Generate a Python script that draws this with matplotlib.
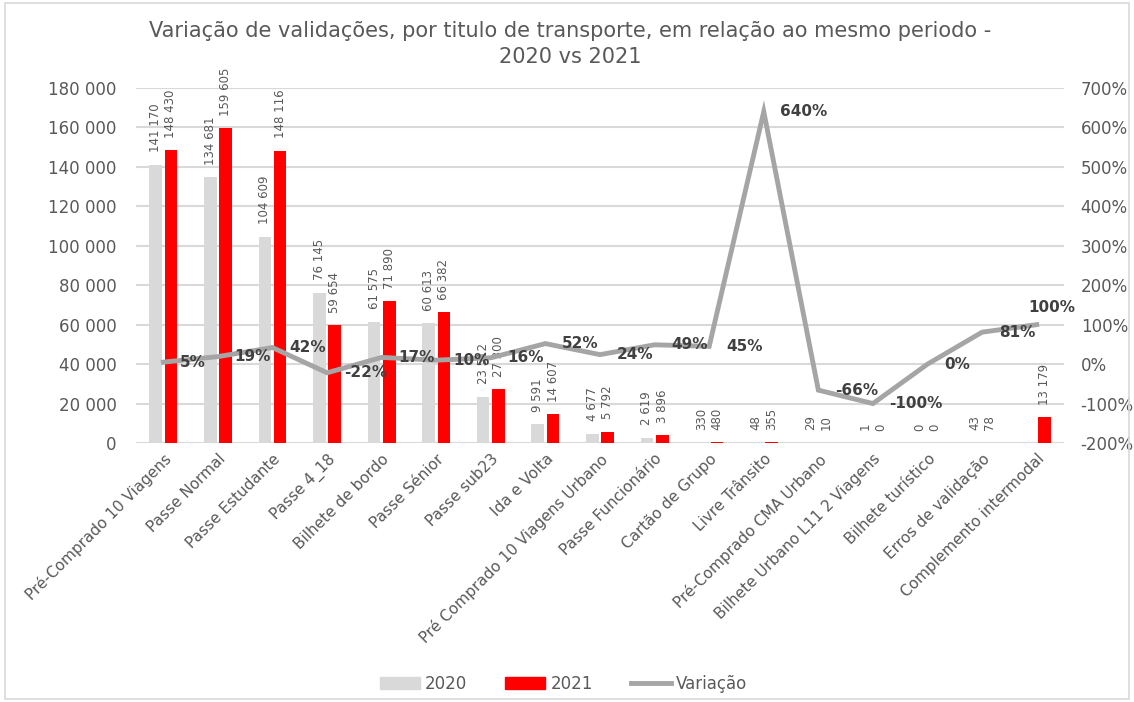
import matplotlib
matplotlib.use("Agg")
import matplotlib.pyplot as plt
import numpy as np
from matplotlib.patches import Patch, Rectangle
from matplotlib.lines import Line2D
from matplotlib.ticker import FuncFormatter, MultipleLocator

categories = [
    "Pré-Comprado 10 Viagens", "Passe Normal", "Passe Estudante", "Passe 4_18",
    "Bilhete de bordo", "Passe Sénior", "Passe sub23", "Ida e Volta",
    "Pré Comprado 10 Viagens Urbano", "Passe Funcionário", "Cartão de Grupo",
    "Livre Trânsito", "Pré-Comprado CMA Urbano", "Bilhete Urbano L11 2 Viagens",
    "Bilhete turístico", "Erros de validação", "Complemento intermodal",
]
v2020 = [141170, 134681, 104609, 76145, 61575, 60613, 23512, 9591, 4677, 2619,
         330, 48, 29, 1, 0, 43, None]
v2021 = [148430, 159605, 148116, 59654, 71890, 66382, 27300, 14607, 5792, 3896,
         480, 355, 10, 0, 0, 78, 13179]
variacao = [5, 19, 42, -22, 17, 10, 16, 52, 24, 49, 45, 640, -66, -100, 0, 81, 100]

TXT = "#595959"
DARK = "#404040"
GRID = "#D9D9D9"
C2020 = "#D9D9D9"
C2021 = "#FF0000"
CLINE = "#A5A5A5"

fig = plt.figure(figsize=(11.34, 7.02), dpi=100)
ax = fig.add_axes([136/1134, 1-443/702, (1064-136)/1134, (443-88)/702])
ax2 = ax.twinx()

x = np.arange(len(categories))
bw = 0.23
off = 0.14
y20 = [np.nan if v is None else v for v in v2020]
ax.bar(x - off, y20, width=bw, color=C2020, zorder=2)
ax.bar(x + off, v2021, width=bw, color=C2021, zorder=2)

def fmt_num(v):
    return f"{v:,}".replace(",", " ")

for xi, v in zip(x, v2020):
    if v is None:
        continue
    ax.annotate(fmt_num(v), (xi - off, v), xytext=(0, 9), textcoords="offset points",
                rotation=90, ha="center", va="bottom", fontsize=8.5, color=TXT)
for xi, v in zip(x, v2021):
    ax.annotate(fmt_num(v), (xi + off, v), xytext=(0, 9), textcoords="offset points",
                rotation=90, ha="center", va="bottom", fontsize=8.5, color=TXT)

ax.set_xlim(-0.5, len(categories) - 0.5)
ax.set_ylim(0, 180000)
ax.yaxis.set_major_locator(MultipleLocator(20000))
ax.yaxis.set_major_formatter(FuncFormatter(lambda v, p: fmt_num(int(v))))
ax.grid(axis="y", color=GRID, linewidth=1.5, zorder=0)
ax.set_axisbelow(True)
ax.set_xticks(x)
ax.set_xticklabels(categories, rotation=45, ha="right", va="top",
                   rotation_mode="anchor", fontsize=11, color=TXT)
ax.tick_params(axis="y", length=0, pad=14, labelsize=12, labelcolor=TXT)
ax.tick_params(axis="x", length=0, pad=6, labelsize=11, labelcolor=TXT)

ax2.plot(x, variacao, color=CLINE, linewidth=3.5, solid_joinstyle="miter", zorder=3)
n = len(variacao)
for i, (xi, v) in enumerate(zip(x, variacao)):
    if i == n - 1:
        ax2.annotate(f"{v}%", (xi, v), xytext=(11, 12), textcoords="offset points",
                     ha="center", va="center", fontsize=11, fontweight="bold", color=DARK)
    else:
        ax2.annotate(f"{v}%", (xi, v), xytext=(12, 0), textcoords="offset points",
                     ha="left", va="center", fontsize=11, fontweight="bold", color=DARK)
ax2.set_ylim(-200, 700)
ax2.yaxis.set_major_locator(MultipleLocator(100))
ax2.yaxis.set_major_formatter(FuncFormatter(lambda v, p: f"{int(v)}%"))
ax2.tick_params(axis="y", length=0, pad=12, labelsize=12, labelcolor=TXT)

for a in (ax, ax2):
    for s in a.spines.values():
        s.set_visible(False)

fig.text(0.503, 0.97, "Variação de validações, por titulo de transporte, em relação ao mesmo periodo -\n2020 vs 2021",
         ha="center", va="top", fontsize=15, color=TXT, linespacing=1.4)

handles = [Patch(color=C2020), Patch(color=C2021),
           Line2D([0], [0], color=CLINE, linewidth=3.5)]
fig.legend(handles, ["2020", "2021", "Variação"], loc="center", bbox_to_anchor=(0.497, 0.026),
           ncol=3, frameon=False, fontsize=12, labelcolor=TXT, handlelength=2.4,
           handleheight=0.7, columnspacing=2.3, handletextpad=0.3)

fig.patches.append(Rectangle((0.004, 0.004), 0.992, 0.992, transform=fig.transFigure,
                             fill=False, edgecolor=GRID, linewidth=1.2))

fig.savefig("out.png", dpi=100)
